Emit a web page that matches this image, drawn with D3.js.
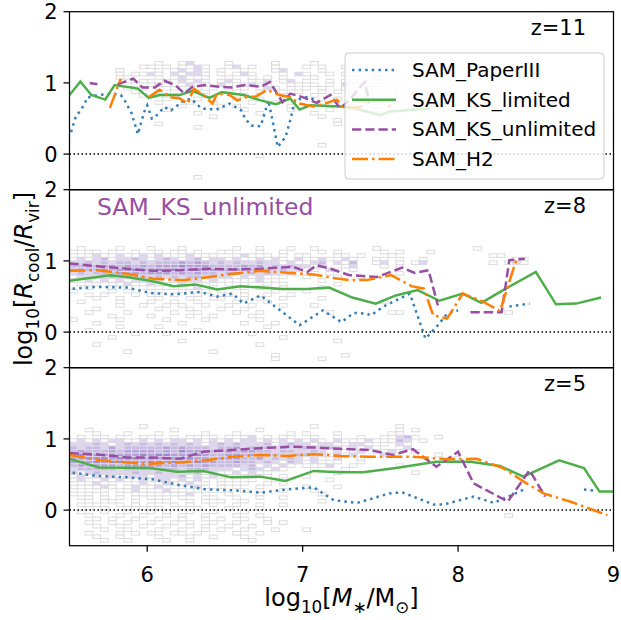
<!DOCTYPE html>
<html>
<head>
<meta charset="utf-8">
<script src="https://cdn.jsdelivr.net/npm/d3@7"></script>
<style>
body { margin: 0; background: #fff; }
text { font-family: "DejaVu Sans", sans-serif; }
</style>
</head>
<body>
<script>
/* cooling radius vs stellar mass, three redshift panels */

var xTicks = [6, 7, 8, 9];
var yTicks = [0, 1, 2];
var redshifts = ["z=11", "z=8", "z=5"];
var modelNames = ["SAM_PaperIII", "SAM_KS_limited", "SAM_KS_unlimited", "SAM_H2"];
var highlightModel = "SAM_KS_unlimited";

// median lines, [log M*, log Rcool/Rvir]; null = no galaxies in bin
var paperIII_z11 = [[5.51,0.31],[5.54,0.52],[5.6,0.71],[5.61,0.79],[5.68,0.83],[5.78,0.85],[5.83,0.83],[5.855,0.755],[5.9,0.57],[5.94,0.28],[5.98,0.59],[6.0,0.685],[6.03,0.50],[6.05,0.52],[6.11,0.66],[6.155,0.615],[6.22,0.73],[6.28,0.78],[6.35,0.64],[6.445,0.625],[6.53,0.71],[6.605,0.615],[6.63,0.50],[6.67,0.40],[6.73,0.39],[6.78,0.755],[6.84,0.10],[6.89,0.24],[6.92,0.475],[6.95,0.755],[7.03,0.80],[7.1,0.75]];
var ksLimited_z11 = [[5.5,0.83],[5.57,1.02],[5.64,0.83],[5.73,0.765],[5.79,0.97],[5.94,0.92],[6.01,0.79],[6.08,0.83],[6.21,0.83],[6.29,0.89],[6.4,0.79],[6.48,0.87],[6.62,0.83],[6.73,0.755],[6.83,0.70],[6.92,0.78],[6.98,0.625],[7.05,0.685],[7.24,0.67],[7.3,0.66],[7.5,0.545],[7.56,0.60],[7.82,0.64]];
var ksUnlimited_z11 = [[5.63,1.0],[5.68,0.98],[5.75,null],[5.81,0.98],[5.91,1.06],[5.97,0.935],[6.05,0.935],[6.11,1.03],[6.18,0.97],[6.24,0.85],[6.29,0.945],[6.37,0.97],[6.46,0.945],[6.54,0.935],[6.63,0.97],[6.73,0.945],[6.79,1.01],[6.87,0.73],[6.92,0.85],[7.0,0.80],[7.09,0.72],[7.18,0.83],[7.24,0.64],[7.3,0.755],[7.37,0.945],[7.4,1.01],[7.43,0.71]];
var h2_z11 = [[5.76,0.65],[5.81,0.945],[5.83,1.06],[5.9,null],[6.01,0.80],[6.08,0.905],[6.15,0.80],[6.21,0.78],[6.26,0.71],[6.3,0.92],[6.36,0.83],[6.42,0.71],[6.45,0.85],[6.53,0.83],[6.58,0.755],[6.64,0.80],[6.7,0.81],[6.77,0.90],[6.85,0.83],[6.92,0.80],[6.98,0.71],[7.07,0.67],[7.13,0.70],[7.22,0.765],[7.26,0.65],[7.37,0.66],[7.41,0.73],[7.54,0.755],[7.57,0.615]];

var paperIII_z8 = [[5.52,0.61],[5.68,0.635],[5.87,0.625],[6.02,0.55],[6.17,0.53],[6.34,0.565],[6.45,0.50],[6.55,0.54],[6.62,0.40],[6.73,0.515],[6.85,0.315],[6.98,0.095],[7.13,0.305],[7.25,0.14],[7.33,0.27],[7.41,0.26],[7.44,0.235],[7.52,0.36],[7.69,0.54],[7.79,-0.09],[7.86,0.07],[7.93,0.26],[8.0,0.305],[8.15,null],[8.33,0.36],[8.46,0.40]];
var ksLimited_z8 = [[5.5,0.72],[5.76,0.80],[5.87,0.775],[6.02,0.72],[6.17,0.645],[6.31,0.67],[6.45,0.60],[6.6,0.645],[6.87,0.605],[7.03,0.605],[7.17,0.625],[7.32,0.485],[7.47,0.40],[7.6,0.515],[7.74,0.59],[7.88,0.44],[8.03,0.54],[8.15,0.41],[8.29,0.59],[8.5,0.845],[8.63,0.39],[8.76,0.40],[8.92,0.485]];
var ksUnlimited_z8 = [[5.5,0.965],[5.68,0.925],[5.87,0.89],[6.04,0.86],[6.21,0.87],[6.38,0.89],[6.55,0.88],[6.73,0.89],[6.94,0.915],[7.03,0.845],[7.09,0.94],[7.18,0.89],[7.3,0.80],[7.48,0.775],[7.64,0.905],[7.72,0.83],[7.81,0.87],[7.87,0.375],[7.97,null],[8.08,0.28],[8.24,0.28],[8.28,0.28],[8.33,1.01],[8.43,1.03]];
var h2_z8 = [[5.5,0.86],[5.68,0.87],[5.87,0.82],[6.04,0.75],[6.23,0.73],[6.4,0.775],[6.55,0.82],[6.73,0.86],[6.92,0.83],[7.07,0.81],[7.18,0.765],[7.3,0.73],[7.41,0.73],[7.57,0.80],[7.7,0.645],[7.78,0.61],[7.84,0.235],[7.93,0.19],[8.03,0.54],[8.15,0.44],[8.27,0.295],[8.37,0.985],[8.4,1.0]];

var paperIII_z5 = [[5.52,0.525],[5.68,0.48],[5.87,0.46],[6.04,0.43],[6.21,0.35],[6.38,0.29],[6.55,0.28],[6.73,0.245],[6.9,0.29],[7.07,0.32],[7.2,0.14],[7.35,0.10],[7.56,0.235],[7.64,0.25],[7.84,0.08],[7.91,0.08],[8.1,0.19],[8.23,0.10],[8.44,0.305],[8.6,null],[8.81,0.29],[8.89,0.27]];
var ksLimited_z5 = [[5.5,0.72],[5.69,0.60],[6.02,0.59],[6.19,0.54],[6.36,0.55],[6.54,0.46],[6.73,0.47],[6.89,0.41],[7.07,0.55],[7.24,0.53],[7.39,0.53],[7.6,0.59],[7.86,0.68],[8.08,0.68],[8.27,0.62],[8.42,0.47],[8.65,0.70],[8.81,0.59],[8.91,0.26],[9.0,0.26]];
var ksUnlimited_z5 = [[5.5,0.80],[5.68,0.78],[5.87,0.74],[6.04,0.74],[6.21,0.72],[6.36,0.82],[6.55,0.845],[6.73,0.87],[6.92,0.89],[7.07,0.88],[7.24,0.86],[7.43,0.845],[7.58,0.775],[7.71,0.855],[7.86,0.61],[8.0,0.82],[8.1,0.375],[8.32,0.12],[8.46,0.56],[8.56,0.19]];
var h2_z5 = [[5.5,0.775],[5.7,0.70],[5.98,0.65],[6.21,0.67],[6.38,0.70],[6.55,0.75],[6.73,0.775],[6.9,0.76],[7.07,0.785],[7.24,0.76],[7.43,0.75],[7.71,0.75],[7.93,0.715],[8.12,0.72],[8.29,0.59],[8.44,0.375],[8.55,0.235],[8.72,0.12],[8.96,-0.07]];

// 2D histogram of galaxies, bins 0.05 x 0.05 starting at log M* = 5.5
// '.' empty, 'o' very few, '1'-'4' increasing counts; first row starts at histTop
var histTop = [1.30, 1.20, 1.20];
var hist_z11 = [
  ".......... .o..o1.... o.....o... .o",
  ".........o o.o.o.1o.. o1.o..o... o.o..o",
  "......o... .o.o1o1o.o ..o...o1.. ..o....o",
  "......o.oo 1o.1o11o.o .o1o...o.1 o..o.o...o",
  "......oo.. .o.o1o.o.. o..o.o.o.. .o....o..o",
  ".......o.o o.o.1o1o.o 1o.oo1.o1. o..o.oo... .o",
  "........o. o1o.o1.o.1 o.o1.o..oo .o.o.1.o.o o.",
  ".......o.o .o.o.oo.o. o.o.o1o.o. o.o..o..o. ..o",
  "........o. ..o..o.o.. .o..o..o.o ..o.o...o. .o",
  ".........o .o.o...o.. ..o....o.. .o....o... o.",
  ".......... ..o...o... .o..o..... ....o..o.. ..o",
  ".......... .o...o..o. ...o..o... ..o......o",
  ".......... ....o....o .o......o. ......o...",
  ".......... ..o....... ..o.....o. ...o.....o",
  ".......... ......o... ....o..... .o......",
  ".......... ........o. .......... ..o",
  ".......... .......... .......... ....o",
  ".......... .o........ .......... ....o",
  ".......... ......o...",
  "", "", "", "",
  ".......... .......... .......... ..o",
  "", "",
  ".......... .......... ....o",
  "", "", "", "", "",
  ".......... ......o"
];
var hist_z8 = [
  ".o....o... o...o..... .o..o...o. .o.......o .......... ..o....... ..",
  "o.oo.o..o. .o.oo.o..o o...o..o.. ..o.o..... o.o...o... .......... ..",
  ".oo1o.1oo1 o1o.o1.oo. .o1o.o.o.o o...oo.o.. .o........ ....oo.... ..",
  "o1o12o1121 o121o12o11 o1o.1o1o.1 .o1o.1o..o o.o..o.... .......oo. ..",
  "1121212212 1222323212 1211211o1o o12.1o2..o 1.o.o1.... ....o.o1o. ..",
  "2232332323 2333433322 2232312121 1o1..o1... o.o....... .......... ..",
  "2322323343 3434334332 3322221211 oo.1o.o... .......... .......... ..",
  "1212223232 3332323221 2212121o1o .o.o...... ..o....... .......... ..",
  "o11o121212 1212122121 1o1o1o.o.. o...o..o.. .......... .......... ..",
  "o.1o1o1o11 o1o1o11o1o .o.o1.o... ..o....... .......... .......... ..",
  ".o.o.oo1o. 1o.o1oo.o. o.o..o.o.. ....o..... .......... .......... ..",
  "..o..o.o.o o.oo.o1.o. .o..o..o.. ..o....... .......... .......... ..",
  "o....o.o.. .o..o.oo.o ..o...o... o......... .......... .......... ..",
  "..o.o...o. o..o..o... o.o..o..o. .......... .......... .......... ..",
  "...o..o... .o...o..oo ..o.o..o.. ..o....... .......... .......... ..",
  ".o....o... o..o..o... .o...o.... .......... o......... .......... ..",
  "......o..o ..o.o..o.. o..o...o.. .o........ .......... .......... ..",
  "...o...... .o...o...o ..o....... .......... .......... .......... ..",
  "..o....o.. ...o..o... .o..o..... ...o...... .oo....... ......o... ..",
  ".....o.... o....o..o. ...o...... .......... .......... .......... ..",
  "o.....o... ..o....o.. ....o..... .......... .......... .......... ..",
  "...o...... ....o..... ..o...o... .......... .......... .......... ..",
  "......o... .o........ .....o.... .......... .......... .......... ..",
  "..o....... ......o... .......... .......... .......... .......... ..",
  "........o. ..o....... ...o...... .......... .......... .......... ..",
  ".....o.... .......... .......o.. .......... .......... .......... ..",
  ".......... ....o..... .......... ....o..... .......... .......... ..",
  "...o...... .......... ....o..... .......... .......... .......... ..",
  "",
  ".......o.. ........o. .......... .......... .......... .......... ..",
  ".......... .......... ......o... .....o.... .......... .......... ..",
  ".......... .......... ......o... ..o....... .......... .......... .."
];
var hist_z5 = [
  ".........o .......... .......... .o........ ..o....... .......... ..",
  "..o....... ...o...... ....o..... .......... ..o.o..... .......... ..",
  "...o...o.. .o.....o.. .o......o. o...o..... .oo....... .......... ..",
  ".o.oo.o..o o..o.oo.o. o.o1.o.oo. .o..o..o.. o.12o..o.. .......... ..",
  "o1o1o11oo1 o1o11o1o1o 1o11o1o1o1 o1o.1oo.1o .o21.o.... .......... ..",
  "11121o1212 1212121o12 121112o121 1o11.o11o. o.1o...... .......... ..",
  "2122131222 2232322212 2312221211 21121o1.1o ..o1...... .......... ..",
  "2322232333 3232433322 3233221221 121o1.o1.o o1..o..... .......... ..",
  "3433343334 3443334322 3323332112 2o1.2o1... 1......o.. .......... ..",
  "3344434443 4343443323 3322312121 o1.o1..o.. .........o .......... ..",
  "3434344333 4434334332 2322121o21 .1o.o..o.. .......... .......... ..",
  "2323332333 3323232322 2212o1o1o. o.o1..o... ..o....... .......... ..",
  "1222221222 2222122211 1o121o1o.. .o...o.... .......... .......... ..",
  "1o12111121 1211112o1o o1o1oo.... ....o..... ....o..... .......... ..",
  "o1o1o1o111 o1112o1o1o o.oo.o.o.. o......... .......... .......... ..",
  "o1oo1o1oo1 o11o1o1o.o .o.o..o... ...o...... .......... .......... ..",
  ".oo1oo.oo1 oo1oo1oo.o o.o..o.o.. .......... .......... .......... ..",
  "o.oo1o.o1o o1o.oo1o.o .o..o..... o...o..... .......... .......... ..",
  ".o.oo.oo1o o.1oo.o.oo ..o.o..o.. .o........ .......... .......... ..",
  "o.o.o.o.oo .o.oo1.o.. o...o..... ..o....... .......... .......... ..",
  ".oo.o.o.o. o.o.o..oo. .o..o..o.. .......... .......... .......... ..",
  "..o.oo..o. .oo..o.o.o ..o....... ..o....... .......... .......... ..",
  ".o.o..o.o. o..o.o..o. .o..o..o.. .......... .......... .......... ..",
  "..o.o..o.o .o..o.o... o...o..... .......... .......... .......... ..",
  ".o..o..o.. o.o..o..o. ..o....... .......... .......... .......... ..",
  "..o...o..o ..o.o..o.. .o..o..... .......... .......... ......o... ..",
  "...o.o..o. .o..o..o.o ..o..o.... .......... .......... .......... ..",
  "..o..o.o.. o..o.o..o. .o...o.o.. .......... .......... .......... ..",
  "...o..o..o ..o..o.o.. o..o...... .......... .......... .......... ..",
  "....o..o.. .o..o..o.o ..o...o... o......... .......... .......... ..",
  "..o...o.o. o..oo.o... .o..o..... .......... .......... .......... ..",
  "...o..o... .o...o..o. ..o....... .......... .......... .......... ..",
  "....o..o.. ..o..o.... ...o...... .......... .......... .......... .."
];

var panelLines = [
  [paperIII_z11, ksLimited_z11, ksUnlimited_z11, h2_z11],
  [paperIII_z8, ksLimited_z8, ksUnlimited_z8, h2_z8],
  [paperIII_z5, ksLimited_z5, ksUnlimited_z5, h2_z5]
];
var panelHists = [hist_z11, hist_z8, hist_z5];

// styles
var lineColors = ["#377eb8", "#4daf4a", "#984ea3", "#ff7f00"];
var lineDashes = ["2.5,4.1", null, "9.25,4", "16,4,2.5,4"];
var cellLevels = { o: 0.0, "1": 0.28, "2": 0.48, "3": 0.66, "4": 0.84 };
var cellColor = d3.interpolateRgb("#ffffff", "#8c72c0");
var binW = 0.05, binH = 0.05, histX0 = 5.5;

var W = 621, H = 620;
var left = 69.5, right = 613.5;
var panelTops = [11.7, 189.7, 367.7], panelH = 178;

var svg = d3.select("body").append("svg")
    .attr("width", W)
    .attr("height", H);

var x = d3.scaleLinear().domain([5.5, 9]).range([left, right]);

function addMath(sel, parts, fs) {
    var shift = 0;
    parts.forEach(function(p) {
        var target = p.sub ? 0.28 * fs : 0;
        var t = sel.append("tspan")
            .attr("dy", target - shift)
            .attr("font-size", p.sub ? fs * 0.7 : fs)
            .text(p.t);
        if (p.it) t.attr("font-style", "italic");
        shift = target;
    });
}

panelTops.forEach(function(top, i) {
    var y = d3.scaleLinear().domain([-0.5, 2]).range([top + panelH, top]);
    var g = svg.append("g");

    svg.append("clipPath").attr("id", "clip" + i)
        .append("rect")
        .attr("x", left).attr("y", top)
        .attr("width", right - left).attr("height", panelH);

    var inner = g.append("g").attr("clip-path", "url(#clip" + i + ")");

    // histogram cells
    var cells = [];
    panelHists[i].forEach(function(row, r) {
        var s = row.replace(/ /g, "");
        for (var c = 0; c < s.length; c++) {
            if (s[c] === ".") continue;
            cells.push({ x0: histX0 + c * binW, y1: histTop[i] - r * binH, lev: s[c] });
        }
    });
    inner.selectAll("rect.cell")
        .data(cells)
        .enter()
        .append("rect")
        .attr("class", "cell")
        .attr("x", function(d) { return x(d.x0); })
        .attr("y", function(d) { return y(d.y1); })
        .attr("width", function(d) { return x(d.x0 + binW) - x(d.x0); })
        .attr("height", function(d) { return y(d.y1 - binH) - y(d.y1); })
        .attr("fill", function(d) { return cellColor(cellLevels[d.lev]); })
        .attr("stroke", function(d) { return d.lev === "o" ? "#dcdcdc" : "#ddd6ea"; })
        .attr("stroke-width", 1);

    // zero line
    inner.append("line")
        .attr("x1", left).attr("x2", right)
        .attr("y1", y(0)).attr("y2", y(0))
        .attr("stroke", "#000")
        .attr("stroke-width", 1.5)
        .attr("stroke-dasharray", "1.5,2.5");

    var line = d3.line()
        .defined(function(d) { return d[1] !== null; })
        .x(function(d) { return x(d[0]); })
        .y(function(d) { return y(d[1]); });

    panelLines[i].forEach(function(data, k) {
        inner.append("path")
            .datum(data)
            .attr("d", line)
            .attr("fill", "none")
            .attr("stroke", lineColors[k])
            .attr("stroke-width", 2.5)
            .attr("stroke-dasharray", lineDashes[k]);
    });

    // frame
    g.append("rect")
        .attr("x", left).attr("y", top)
        .attr("width", right - left).attr("height", panelH)
        .attr("fill", "none")
        .attr("stroke", "#000")
        .attr("stroke-width", 1.25);

    // y ticks
    yTicks.forEach(function(t) {
        g.append("line")
            .attr("x1", left - 6).attr("x2", left)
            .attr("y1", y(t)).attr("y2", y(t))
            .attr("stroke", "#000").attr("stroke-width", 1.25);
        g.append("text")
            .attr("x", left - 12)
            .attr("y", y(t) + 7.6)
            .attr("text-anchor", "end")
            .attr("font-size", 21)
            .text(t);
    });

    g.append("text")
        .attr("x", 586)
        .attr("y", top + 23.5)
        .attr("text-anchor", "end")
        .attr("font-size", 21)
        .text(redshifts[i]);

    if (i === 1) {
        g.append("text")
            .attr("x", 97)
            .attr("y", top + 25.5)
            .attr("font-size", 23.5)
            .attr("fill", lineColors[2])
            .text(highlightModel);
    }

    if (i === 0) {
        var lg = g.append("g");
        lg.append("rect")
            .attr("x", 345).attr("y", 53)
            .attr("width", 259).attr("height", 126)
            .attr("rx", 4)
            .attr("fill", "#fff").attr("fill-opacity", 0.8)
            .attr("stroke", "#cccccc").attr("stroke-width", 1);
        modelNames.forEach(function(name, k) {
            var ly = 70 + k * 29.7;
            lg.append("line")
                .attr("x1", 352).attr("x2", 396)
                .attr("y1", ly).attr("y2", ly)
                .attr("stroke", lineColors[k])
                .attr("stroke-width", 2.5)
                .attr("stroke-dasharray", lineDashes[k]);
            lg.append("text")
                .attr("x", 412)
                .attr("y", ly + 7)
                .attr("font-size", 20)
                .text(name);
        });
    }

    if (i === 2) {
        xTicks.forEach(function(t) {
            g.append("line")
                .attr("x1", x(t)).attr("x2", x(t))
                .attr("y1", top + panelH).attr("y2", top + panelH + 6)
                .attr("stroke", "#000").attr("stroke-width", 1.25);
            g.append("text")
                .attr("x", x(t))
                .attr("y", top + panelH + 36)
                .attr("text-anchor", "middle")
                .attr("font-size", 21)
                .text(t);
        });
    }
});

// axis labels
var xl = svg.append("text")
    .attr("x", (left + right) / 2)
    .attr("y", 606)
    .attr("text-anchor", "middle");
addMath(xl, [{t: "log"}, {t: "10", sub: true}, {t: "["}, {t: "M", it: true}, {t: "\u2217", sub: true},
             {t: "/M"}, {t: "\u2299", sub: true}, {t: "]"}], 24);

var yl = svg.append("text")
    .attr("transform", "translate(32," + 279 + ") rotate(-90)")
    .attr("text-anchor", "middle");
addMath(yl, [{t: "log"}, {t: "10", sub: true}, {t: "["}, {t: "R", it: true}, {t: "cool", sub: true},
             {t: "/"}, {t: "R", it: true}, {t: "vir", sub: true}, {t: "]"}], 24);
</script>
</body>
</html>
